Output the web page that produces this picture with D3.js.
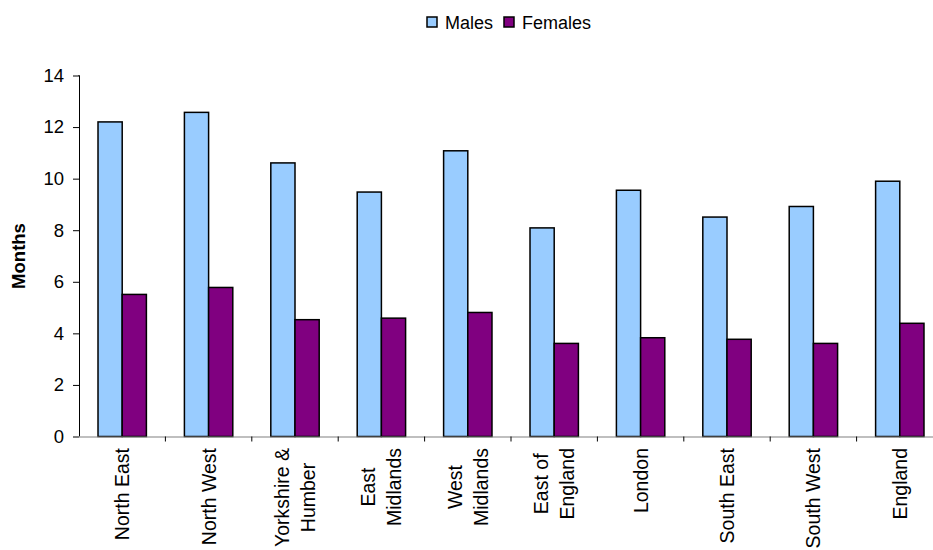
<!DOCTYPE html>
<html>
<head>
<meta charset="utf-8">
<script src="https://cdn.jsdelivr.net/npm/d3@7"></script>
<style>
  html, body { margin: 0; padding: 0; background: #fff; }
  svg { display: block; font-family: "Liberation Sans", Arial, sans-serif; }
</style>
</head>
<body>
<svg id="chart" width="933" height="550"></svg>
<script>
// Regional duration by sex, in months
const regions = [
  ["North East"], ["North West"], ["Yorkshire &", "Humber"], ["East", "Midlands"],
  ["West", "Midlands"], ["East of", "England"], ["London"], ["South East"],
  ["South West"], ["England"]
];
const seriesNames = ["Males", "Females"];
const males   = [12.2, 12.57, 10.61, 9.48, 11.08, 8.09, 9.55, 8.51, 8.92, 9.9];
const females = [5.51, 5.78, 4.53, 4.59, 4.81, 3.61, 3.83, 3.77, 3.61, 4.39];
const yTicks = [0, 2, 4, 6, 8, 10, 12, 14];
const colors = ["#99CCFF", "#800080"];

const svg = d3.select("#chart");
const keys = regions.map(r => r.join(" "));

const x = d3.scaleBand().domain(keys).range([79, 943]).paddingInner(0.44).paddingOuter(0.22);
const xs = d3.scaleBand().domain(seriesNames).range([0, x.bandwidth()]);
const y = d3.scaleLinear().domain([0, 14]).range([436.5, 75.5]);

// Bars
const rows = keys.map((k, i) => ({ key: k, values: [males[i], females[i]] }));
const groups = svg.append("g").selectAll("g").data(rows).join("g")
  .attr("transform", d => `translate(${x(d.key)},0)`);
groups.selectAll("rect")
  .data(d => d.values.map((v, j) => ({ name: seriesNames[j], v, j })))
  .join("rect")
  .attr("x", d => xs(d.name))
  .attr("width", xs.bandwidth())
  .attr("y", d => y(d.v))
  .attr("height", d => y(0) - y(d.v))
  .attr("fill", d => colors[d.j])
  .attr("stroke", "#000")
  .attr("stroke-width", 1.5);

// Y axis
const yAxis = svg.append("g").attr("transform", "translate(79,0)")
  .call(d3.axisLeft(y).tickValues(yTicks).tickSize(6).tickPadding(9).tickFormat(d3.format("d")));
yAxis.select(".domain").attr("stroke", "#000").attr("d", `M-0.5,${y(14)}H0.5V${y(0)}`);
yAxis.selectAll(".tick line").attr("stroke", "#000");
yAxis.selectAll("text").attr("font-size", 18.5).attr("fill", "#000").attr("font-family", "Liberation Sans, Arial, sans-serif");

// X axis line and boundary ticks
const step = x.step();
svg.append("line").attr("x1", 73).attr("x2", 943).attr("y1", y(0) + 0.5).attr("y2", y(0) + 0.5)
  .attr("stroke", "#808080").attr("stroke-width", 1.2);
svg.append("g").selectAll("line").data(keys.slice(1)).join("line")
  .attr("x1", d => x(d) - step * 0.22).attr("x2", d => x(d) - step * 0.22)
  .attr("y1", y(0)).attr("y2", y(0) + 5)
  .attr("stroke", "#000").attr("stroke-width", 1);

// Category labels, rotated, top-aligned with lines centred on each other
const lineGap = 26;
const labelTop = 448;
const lab = svg.append("g").selectAll("text").data(regions).join("text")
  .attr("font-size", 19.5)
  .attr("fill", "#000")
  .attr("text-anchor", "middle")
  .attr("dominant-baseline", "central");
lab.each(function(lines, i) {
  const t = d3.select(this);
  const cx = x(keys[i]) + x.bandwidth() / 2;
  lines.forEach((ln, j) => {
    t.append("tspan").attr("data-off", (j - (lines.length - 1) / 2) * lineGap).text(ln);
  });
  let maxLen = 0;
  t.selectAll("tspan").each(function() { maxLen = Math.max(maxLen, this.getComputedTextLength()); });
  const cy = labelTop + maxLen / 2;
  t.attr("transform", `translate(${cx},${cy}) rotate(-90)`);
  t.selectAll("tspan").attr("x", 0).attr("y", function() { return +this.getAttribute("data-off"); });
});

// Y axis title
svg.append("text")
  .attr("transform", `translate(18,256) rotate(-90)`)
  .attr("text-anchor", "middle").attr("dominant-baseline", "central")
  .attr("font-size", 18.5).attr("font-weight", "bold").text("Months");

// Legend
const legend = svg.append("g");
const legendItems = [{ name: "Males", x: 427 }, { name: "Females", x: 504 }];
legendItems.forEach((it, i) => {
  legend.append("rect").attr("x", it.x).attr("y", 17).attr("width", 10).attr("height", 10)
    .attr("fill", colors[i]).attr("stroke", "#000").attr("stroke-width", 1.5);
  legend.append("text").attr("x", it.x + 18).attr("y", 28.5).attr("font-size", 18).text(it.name);
});
</script>
</body>
</html>
